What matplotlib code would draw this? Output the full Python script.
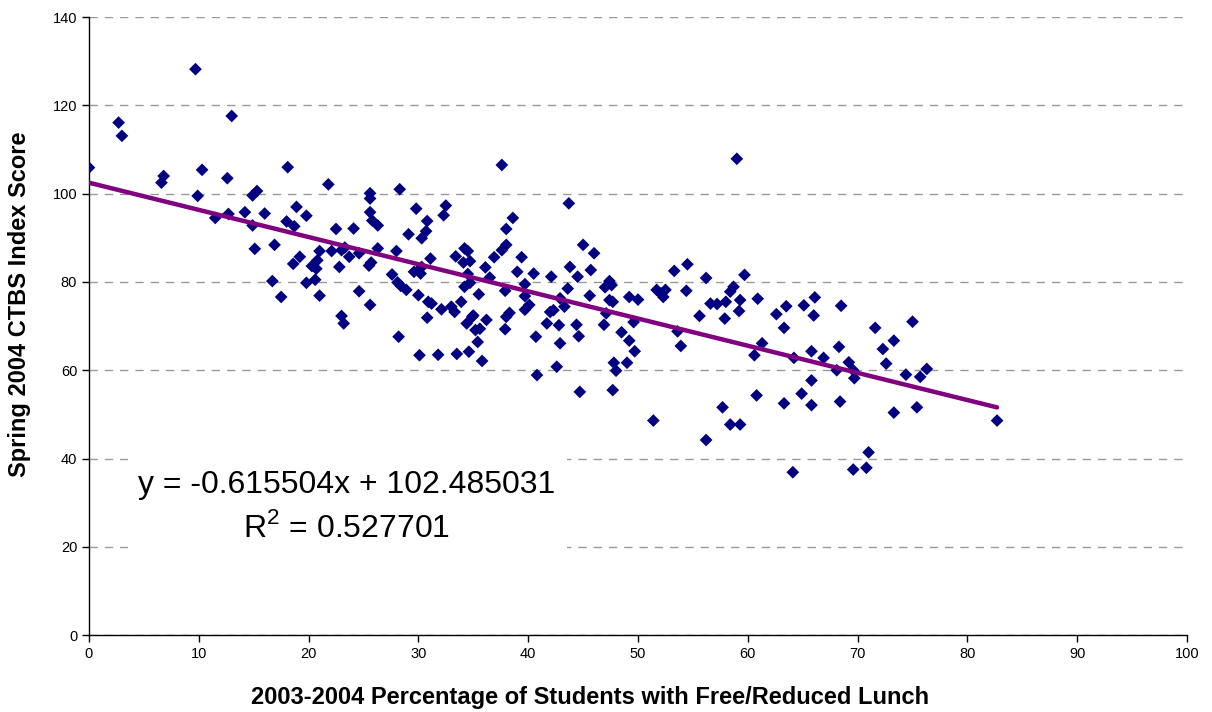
import matplotlib
matplotlib.use("Agg")
import matplotlib.pyplot as plt
from matplotlib.patches import Rectangle
import numpy as np

plt.rcParams['font.family'] = ['Liberation Sans', 'DejaVu Sans']
plt.rcParams['mathtext.fontset'] = 'custom'
plt.rcParams['mathtext.rm'] = 'Liberation Sans'

# % free/reduced lunch vs CTBS index score
pct_lunch = [
    0.0, 2.7, 3.0, 6.6, 6.8, 9.7, 9.9, 10.3, 11.5, 12.6, 12.7, 13.0, 14.2, 14.9,
    14.9, 15.3, 15.1, 16.0, 16.9, 16.7, 17.5, 18.1, 18.0, 18.7, 18.9, 18.6, 19.2,
    19.8, 19.8, 20.3, 20.6, 20.7, 20.8, 21.0, 21.0, 21.8, 22.1, 22.5, 22.8, 23.0,
    23.0, 23.2, 23.3, 23.7, 24.1, 24.6, 24.6, 25.6, 25.6, 25.6, 25.8, 26.3, 26.3,
    25.7, 25.5, 25.6, 27.6, 28.0, 28.3, 28.2, 28.1, 28.4, 28.9, 29.1, 29.6, 29.8,
    30.2, 30.0, 30.1, 30.3, 30.7, 30.8, 30.3, 30.8, 31.1, 30.9, 31.2, 31.8, 32.1,
    32.3, 32.5, 33.0, 33.3, 33.4, 33.5, 33.9, 34.1, 34.2, 34.5, 34.7, 34.5, 34.2,
    34.7, 34.4, 34.9, 35.0, 35.2, 35.6, 35.4, 34.6, 35.8, 35.5, 36.1, 36.2, 36.5,
    36.9, 37.6, 37.6, 38.0, 38.0, 38.6, 37.9, 38.3, 38.0, 37.9, 39.0, 39.4, 39.7,
    39.7, 39.7, 40.1, 40.5, 40.7, 40.8, 41.7, 42.0, 42.3, 42.1, 42.9, 42.6, 42.9,
    42.8, 43.3, 43.6, 43.8, 43.7, 44.5, 44.4, 44.6, 44.7, 45.0, 45.7, 45.6, 46.0,
    47.0, 47.4, 47.6, 47.4, 47.7, 47.1, 46.9, 47.8, 48.0, 47.7, 48.5, 49.0, 49.2,
    49.2, 49.6, 49.7, 50.0, 51.4, 51.7, 52.1, 52.5, 52.3, 53.3, 53.6, 53.9, 54.5,
    54.4, 55.6, 56.2, 56.2, 56.6, 57.2, 57.7, 57.9, 58.0, 58.4, 58.7, 58.4, 59.0,
    59.3, 59.2, 59.3, 59.7, 60.9, 60.6, 61.3, 60.8, 62.6, 63.3, 63.5, 63.3, 64.2,
    64.1, 64.9, 65.1, 65.8, 65.8, 65.8, 66.1, 66.0, 66.9, 68.1, 68.3, 68.5, 68.4,
    69.2, 69.6, 69.7, 69.6, 70.8, 71.0, 71.6, 72.3, 72.6, 73.3, 73.3, 74.4, 75.0,
    75.4, 75.7, 76.3, 82.7,
]
ctbs_score = [
    105.9, 116.1, 113.1, 102.5, 104.0, 128.2, 99.5, 105.4, 94.5, 103.5, 95.4, 117.6, 95.8, 92.8,
    99.6, 100.6, 87.5, 95.5, 88.4, 80.2, 76.6, 106.0, 93.7, 92.6, 97.0, 84.1, 85.7,
    95.0, 79.8, 83.6, 80.5, 83.0, 84.9, 87.0, 76.9, 102.1, 87.0, 92.0, 83.4, 87.2,
    72.3, 70.6, 87.8, 85.7, 92.1, 86.5, 77.9, 100.1, 98.9, 95.8, 93.9, 92.8, 87.6,
    84.4, 83.7, 74.8, 81.7, 87.0, 101.0, 67.6, 79.9, 79.1, 78.2, 90.8, 82.3, 96.6,
    81.9, 77.0, 63.4, 89.9, 91.5, 93.8, 83.4, 71.9, 85.3, 75.5, 75.1, 63.5, 73.8,
    95.1, 97.3, 74.4, 73.2, 85.8, 63.7, 75.5, 84.4, 87.6, 87.0, 84.7, 81.8, 78.9,
    79.8, 70.6, 72.1, 72.4, 69.1, 69.4, 66.4, 64.2, 62.1, 77.2, 83.3, 71.4, 81.0,
    85.6, 106.5, 87.2, 88.4, 92.0, 94.5, 78.0, 73.0, 72.1, 69.3, 82.3, 85.6, 79.5,
    76.8, 73.7, 74.8, 81.9, 67.6, 58.9, 70.6, 73.2, 73.6, 81.2, 76.3, 60.8, 66.1,
    70.2, 74.4, 78.5, 83.4, 97.8, 81.2, 70.3, 67.7, 55.1, 88.4, 82.7, 76.9, 86.5,
    78.8, 80.2, 79.3, 75.9, 75.5, 72.9, 70.3, 61.7, 59.9, 55.5, 68.6, 61.7, 66.7,
    76.6, 70.9, 64.3, 76.0, 48.6, 78.2, 77.4, 78.2, 76.6, 82.5, 68.8, 65.5, 84.0,
    78.0, 72.3, 80.9, 44.2, 75.1, 75.0, 51.6, 71.7, 75.5, 77.8, 78.9, 47.7, 107.9,
    75.9, 73.4, 47.7, 81.6, 76.2, 63.4, 66.1, 54.3, 72.7, 69.6, 74.5, 52.5, 62.8,
    36.9, 54.7, 74.7, 64.3, 57.7, 52.1, 76.5, 72.4, 62.8, 60.0, 65.3, 74.6, 52.9,
    61.8, 60.0, 58.2, 37.5, 37.9, 41.4, 69.6, 64.8, 61.5, 66.7, 50.4, 59.0, 71.0,
    51.6, 58.5, 60.3, 48.6,
]

slope = -0.615504
intercept = 102.485031
r_squared = 0.527701

fig = plt.figure(figsize=(12.12, 7.12), dpi=100)
ax = fig.add_axes([0.0734, 0.108, 0.906, 0.868])

ax.set_xlim(0, 100)
ax.set_ylim(0, 140)
ax.set_xticks(np.arange(0, 101, 10))
ax.set_yticks(np.arange(0, 141, 20))

# dashed grey gridlines like Excel
ax.grid(axis='y', color='#999999', linestyle=(0, (6, 5)), linewidth=1.0, zorder=0)
ax.set_axisbelow(True)

for side in ['top', 'right']:
    ax.spines[side].set_visible(False)
for side in ['left', 'bottom']:
    ax.spines[side].set_color('black')
    ax.spines[side].set_linewidth(1.0)
ax.tick_params(direction='out', length=5, width=1, labelsize=10.5, colors='black')

# white box under the equation hides the gridlines
ax.add_patch(Rectangle((0.0355, 0.134), 0.40, 0.162, transform=ax.transAxes,
                       facecolor='white', edgecolor='none', zorder=1))

ax.scatter(pct_lunch, ctbs_score, marker='D', s=42, color='#000080',
           edgecolors='none', zorder=3)

# trendline
xs = np.array([0, max(pct_lunch)])
ax.plot(xs, slope * xs + intercept, color='#800080', linewidth=3.2,
        solid_capstyle='round', zorder=4)

ax.text(0.235, 0.243, f'y = {slope:.6f}x + {intercept:.6f}', transform=ax.transAxes,
        ha='center', va='center', fontsize=23, zorder=5)
ax.text(0.235, 0.174, f'R$^2$ = {r_squared:.6f}', transform=ax.transAxes,
        ha='center', va='center', fontsize=23, zorder=5)

fig.text(0.487, 0.021, '2003-2004 Percentage of Students with Free/Reduced Lunch',
         ha='center', va='center', fontsize=17, fontweight='bold')
fig.text(0.0165, 0.572, 'Spring 2004 CTBS Index Score', rotation=90,
         ha='center', va='center', fontsize=17, fontweight='bold')

fig.savefig('out.png', dpi=100, facecolor='white')
